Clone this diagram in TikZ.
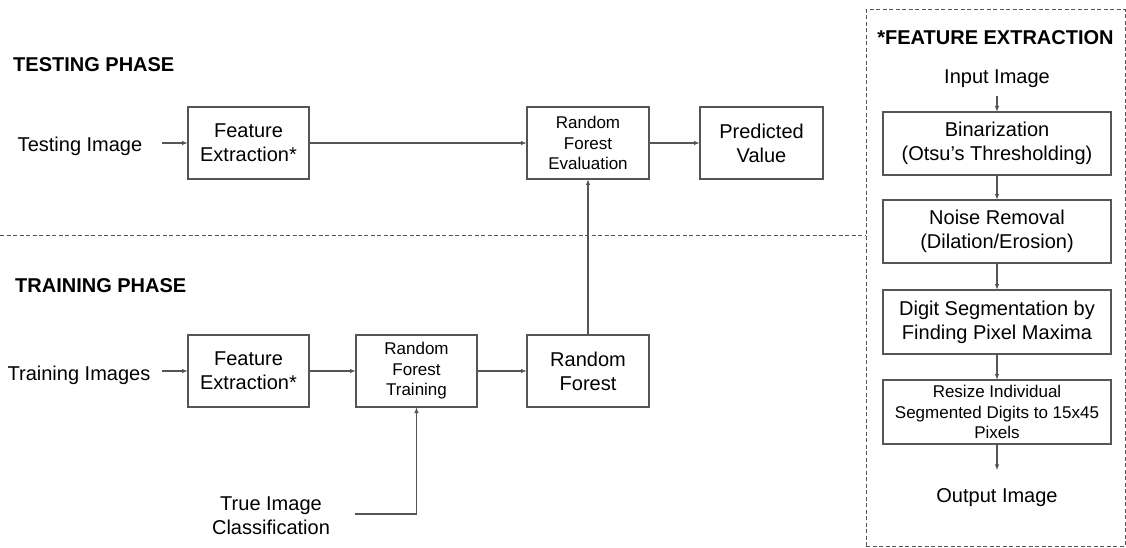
\documentclass[tikz,border=0pt]{standalone}
\usepackage{fontspec}
\setmainfont{Liberation Sans}
\usetikzlibrary{arrows.meta}
\definecolor{linegray}{HTML}{555555}

\begin{document}
\begin{tikzpicture}[x=1pt, y=-1pt,
        box/.style={draw=linegray, line width=1.2pt, inner sep=0pt, outer sep=0pt,
            align=center, font=\fontsize{20}{24}\selectfont},
        smallbox/.style={box, font=\fontsize{17}{20.5}\selectfont},
        lbl/.style={align=center, font=\fontsize{20}{24}\selectfont},
        head/.style={inner sep=0pt, font=\bfseries\fontsize{20}{24}\selectfont},
        arr/.style={draw=linegray, line width=1.2pt, -{Latex[length=6pt,width=4.5pt]}},
        sep/.style={draw=linegray, line width=1pt, dash pattern=on 4pt off 2.5pt}]
        \useasboundingbox (0, 0) rectangle (1126, 548);

        % testing phase
        \node[head, anchor=west] at (13, 65)(testhead){TESTING PHASE};
        \node[lbl] at (80, 146.5)(timg){Testing Image};
        \node[box, minimum width=121pt, minimum height=72pt] at (248.5, 143)(fe1){Feature\\Extraction*};
        \node[smallbox, minimum width=122pt, minimum height=72pt] at (588, 143)(rfe){Random\\Forest\\Evaluation};
        \node[box, minimum width=123pt, minimum height=72pt] at (761.5, 143)(pv){Predicted\\Value};
        \coordinate (in1) at (162, 143);

        % training phase
        \node[head, anchor=west] at (15, 286)(trainhead){TRAINING PHASE};
        \node[lbl] at (79, 375)(trimg){Training Images};
        \node[box, minimum width=121pt, minimum height=72pt] at (248.5, 371)(fe2){Feature\\Extraction*};
        \node[smallbox, minimum width=121pt, minimum height=72pt] at (416.5, 371)(rft){Random\\Forest\\Training};
        \node[box, minimum width=122pt, minimum height=72pt] at (588, 371)(rf){Random\\Forest};
        \node[lbl] at (271, 516)(tic){True Image\\Classification};
        \coordinate (in2) at (162, 371);
        \coordinate (tic0) at (355, 514);

        \draw[arr](in1) to (fe1);
        \draw[arr](fe1) to (rfe);
        \draw[arr](rfe) to (pv);
        \draw[arr](in2) to (fe2);
        \draw[arr](fe2) to (rft);
        \draw[arr](rft) to (rf);
        \draw[arr](rf) to (rfe);
        \draw[arr](tic0) -| (rft);

        % feature extraction panel
        \node[sep, minimum width=259pt, minimum height=536pt, inner sep=0pt] at (995.5, 278)(panel){};
        \coordinate (sepl) at (0, 235);
        \draw[sep](sepl) to (sepl -| panel.west);

        \node[head] at (995.5, 38)(fehead){*FEATURE EXTRACTION};
        \node[lbl] at (997, 79)(inimg){Input Image};
        \node[box, minimum width=228pt, minimum height=63pt] at (997, 143.5)(bin){Binarization\\(Otsu’s Thresholding)};
        \node[box, minimum width=228pt, minimum height=63pt] at (997, 231.5)(noise){Noise Removal\\(Dilation/Erosion)};
        \node[box, minimum width=228pt, minimum height=64pt] at (997, 322)(seg){Digit Segmentation by\\Finding Pixel Maxima};
        \node[smallbox, minimum width=228pt, minimum height=64pt] at (997, 412)(resz){Resize Individual\\Segmented Digits to 15x45\\Pixels};
        \node[lbl] at (997, 498)(outimg){Output Image};

        \draw[arr, shorten <=5pt](inimg) to (bin);
        \draw[arr](bin) to (noise);
        \draw[arr](noise) to (seg);
        \draw[arr](seg) to (resz);
        \draw[arr, shorten >=15pt](resz) to (outimg);
    \end{tikzpicture}
\end{document}
